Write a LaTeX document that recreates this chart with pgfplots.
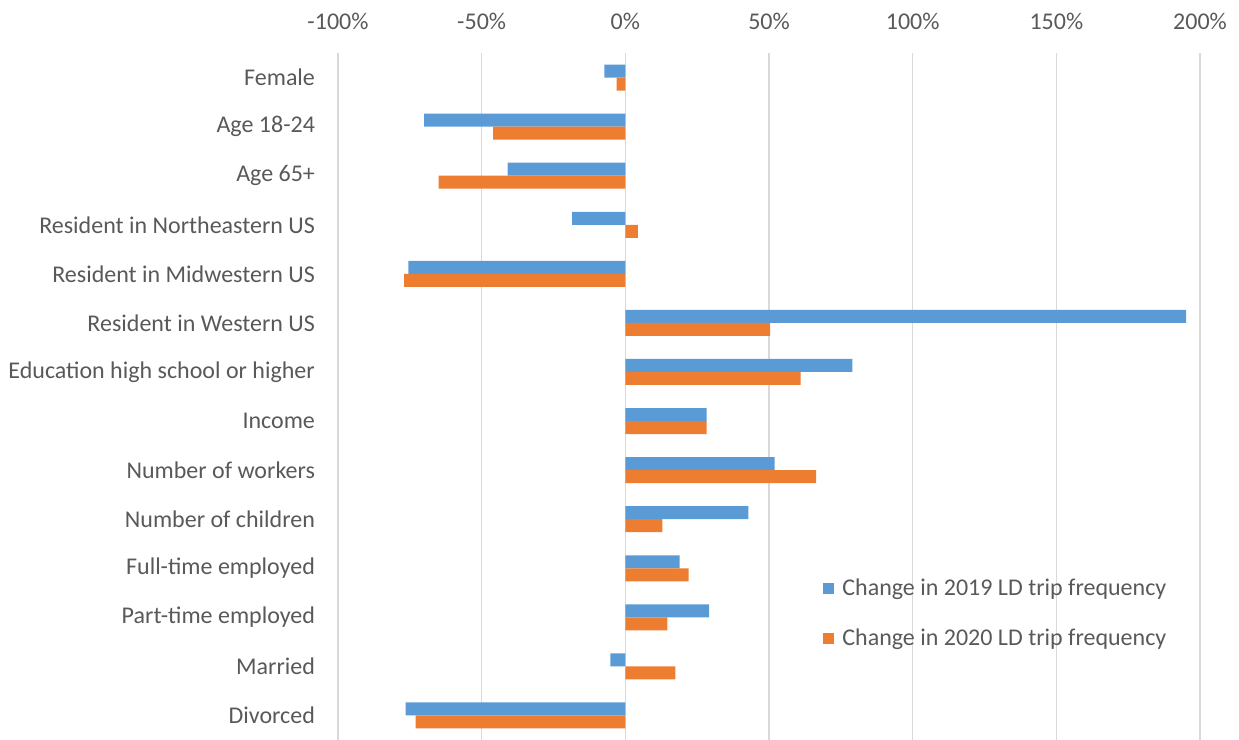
\documentclass[border=0pt]{standalone}
\usepackage{pgfplots}
\usepackage{pgfplotstable}
\pgfplotsset{compat=1.18}
\usepackage{fontspec}
\setmainfont{Carlito}

\definecolor{bar19}{HTML}{5B9BD5}
\definecolor{bar20}{HTML}{ED7D31}
\definecolor{txt}{HTML}{595959}
\definecolor{gridc}{HTML}{D9D9D9}

% idx 0 = Female (top) ... 13 = Divorced (bottom)
\pgfplotstableread{
idx  y19    y20
0    -7.3   -3.0
1    -70.0  -46.0
2    -41.0  -65.0
3    -18.5   4.4
4    -75.5  -77.0
5    195.2   50.4
6    79.0    61.0
7    28.3    28.3
8    52.0    66.4
9    42.8    12.9
10   18.9    22.0
11   29.2    14.6
12   -5.2    17.4
13   -76.5  -73.0
}\ldtrips

\begin{document}
\begin{tikzpicture}
\useasboundingbox (-169pt,0pt) rectangle (450.5pt,370pt);
\begin{axis}[
  at={(0pt,0pt)}, anchor=south west,
  scale only axis,
  width=431pt, height=343.5pt,
  xbar,
  bar width=0.265,
  xmin=-100, xmax=200,
  ymin=-0.5, ymax=13.5,
  y dir=reverse,
  xtick={-100,-50,...,200},
  xticklabel pos=upper,
  xticklabel={\pgfmathprintnumber{\tick}\%},
  /pgf/number format/assume math mode=true,
  ytick={0,...,13},
  yticklabels={Female,Age 18-24,Age 65+,Resident in Northeastern US,Resident in Midwestern US,Resident in Western US,Education high school or higher,Income,Number of workers,Number of children,Full-time employed,Part-time employed,Married,Divorced},
  axis line style={draw=none},
  major tick length=0pt,
  xmajorgrids,
  grid style={gridc, line width=0.7pt},
  tick label style={font=\fontsize{12}{14}\selectfont, text=txt},
  xticklabel style={yshift=8pt},
  yticklabel style={xshift=-8pt},
  legend cell align=left,
  legend style={draw=none, fill=none, at={(rel axis cs:0.555,0.247)}, anchor=north west,
    font=\fontsize{12}{14}\selectfont, text=txt, row sep=11pt},
  legend image code/.code={\fill[#1] (0pt,-2.7pt) rectangle (5.4pt,2.7pt); \path (7.8pt,0pt);},
]
\addplot[fill=bar19, draw=none, bar shift=-0.1325] table[x=y19, y=idx] {\ldtrips};
\addlegendentry{Change in 2019 LD trip frequency}
\addplot[fill=bar20, draw=none, bar shift=0.1325] table[x=y20, y=idx] {\ldtrips};
\addlegendentry{Change in 2020 LD trip frequency}
\end{axis}
\end{tikzpicture}
\end{document}
